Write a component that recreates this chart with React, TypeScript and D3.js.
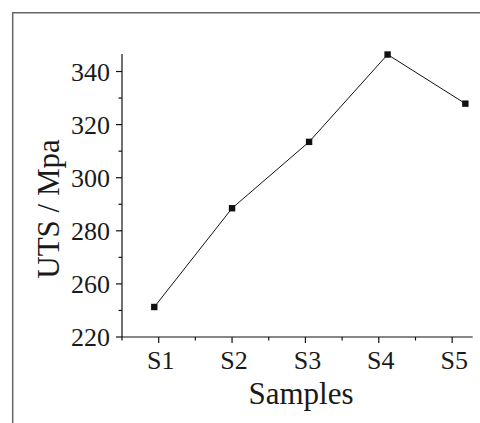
import React, { useRef, useEffect } from "react";
import * as d3 from "d3";

// values
const samples = ["S1", "S2", "S3", "S4", "S5"];
const samplePos = [0.94, 2.0, 3.05, 4.12, 5.18]; // markers sit a bit off the ticks
const uts = [251.3, 288.5, 313.5, 346.4, 327.9];
const yTickValues = [240, 260, 280, 300, 320, 340];
const yTickLabels = ["220", "260", "280", "300", "320", "340"];
const yMinorValues = [250, 270, 290, 310, 330];
const xMinorValues = [0.5, 1.5, 2.5, 3.5, 4.5];

export default function App() {
  const svgRef = useRef<SVGSVGElement>(null);

  useEffect(() => {
    const svg = d3.select(svgRef.current);
    svg.selectAll("*").remove();

    const width = 480;
    const height = 423;
    const font = "Liberation Serif, Times New Roman, serif";

    // frame (only left and top edges are visible in the crop)
    svg
      .append("path")
      .attr("d", `M12.7,${height} V12.7 H${width}`)
      .attr("fill", "none")
      .attr("stroke", "#666")
      .attr("stroke-width", 1.5);

    const xScale = d3.scaleLinear().domain([0.5, 5.28]).range([122, 472.7]);
    const yScale = d3.scaleLinear().domain([240, 346.6]).range([337, 54]);

    const g = svg.append("g").style("font-family", font);

    // y axis
    g.append("line")
      .attr("x1", xScale(0.5))
      .attr("x2", xScale(0.5))
      .attr("y1", yScale(240))
      .attr("y2", yScale(346.6))
      .attr("stroke", "#111")
      .attr("stroke-width", 1.2);

    g.selectAll(".ymajor")
      .data(yTickValues)
      .enter()
      .append("line")
      .attr("x1", xScale(0.5) - 6)
      .attr("x2", xScale(0.5))
      .attr("y1", (d) => yScale(d))
      .attr("y2", (d) => yScale(d))
      .attr("stroke", "#111")
      .attr("stroke-width", 1.2);

    g.selectAll(".yminor")
      .data(yMinorValues)
      .enter()
      .append("line")
      .attr("x1", xScale(0.5) - 3.5)
      .attr("x2", xScale(0.5))
      .attr("y1", (d) => yScale(d))
      .attr("y2", (d) => yScale(d))
      .attr("stroke", "#111")
      .attr("stroke-width", 1.2);

    g.selectAll(".ylabel")
      .data(yTickValues)
      .enter()
      .append("text")
      .attr("x", xScale(0.5) - 12)
      .attr("y", (d) => yScale(d) + 9)
      .attr("text-anchor", "end")
      .style("font-family", font)
      .attr("font-size", 26)
      .attr("fill", "#1a1a1a")
      .text((d, i) => yTickLabels[i]);

    // x axis
    g.append("line")
      .attr("x1", xScale(0.5))
      .attr("x2", xScale(5.28))
      .attr("y1", yScale(240))
      .attr("y2", yScale(240))
      .attr("stroke", "#111")
      .attr("stroke-width", 1.2);

    g.selectAll(".xmajor")
      .data(d3.range(1, 6))
      .enter()
      .append("line")
      .attr("x1", (d) => xScale(d))
      .attr("x2", (d) => xScale(d))
      .attr("y1", yScale(240))
      .attr("y2", yScale(240) + 6)
      .attr("stroke", "#111")
      .attr("stroke-width", 1.2);

    g.selectAll(".xminor")
      .data(xMinorValues)
      .enter()
      .append("line")
      .attr("x1", (d) => xScale(d))
      .attr("x2", (d) => xScale(d))
      .attr("y1", yScale(240))
      .attr("y2", yScale(240) + 3.5)
      .attr("stroke", "#111")
      .attr("stroke-width", 1.2);

    g.selectAll(".xlabel")
      .data(samples)
      .enter()
      .append("text")
      .attr("x", (d, i) => xScale(i + 1) + 2)
      .attr("y", 369)
      .attr("text-anchor", "middle")
      .style("font-family", font)
      .attr("font-size", 26)
      .attr("fill", "#1a1a1a")
      .text((d) => d);

    // axis titles
    g.append("text")
      .attr("x", 301)
      .attr("y", 404)
      .attr("text-anchor", "middle")
      .style("font-family", font)
      .attr("font-size", 31)
      .attr("fill", "#1a1a1a")
      .text("Samples");

    g.append("text")
      .attr("transform", "translate(59,209) rotate(-90)")
      .attr("text-anchor", "middle")
      .style("font-family", font)
      .attr("font-size", 31)
      .attr("fill", "#1a1a1a")
      .text("UTS / Mpa");

    // line + square markers
    const points = uts.map((v, i) => [samplePos[i], v] as [number, number]);
    const line = d3
      .line<[number, number]>()
      .x((d) => xScale(d[0]))
      .y((d) => yScale(d[1]));

    g.append("path")
      .datum(points)
      .attr("fill", "none")
      .attr("stroke", "#111")
      .attr("stroke-width", 1)
      .attr("d", line);

    g.selectAll(".marker")
      .data(points)
      .enter()
      .append("rect")
      .attr("x", (d) => xScale(d[0]) - 3.2)
      .attr("y", (d) => yScale(d[1]) - 3.2)
      .attr("width", 6.4)
      .attr("height", 6.4)
      .attr("fill", "#111");
  }, []);

  return (
    <svg
      ref={svgRef}
      width={480}
      height={423}
      style={{ position: "absolute", left: 0, top: 0, background: "#fff" }}
    ></svg>
  );
}
